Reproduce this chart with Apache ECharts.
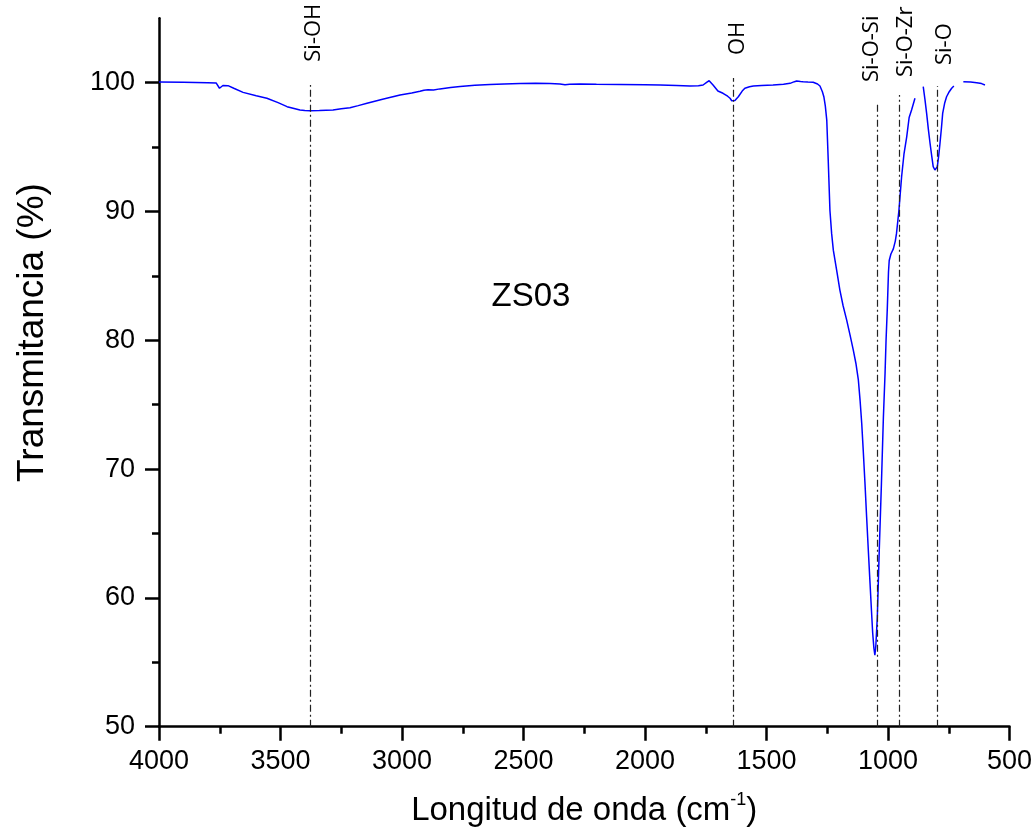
<!DOCTYPE html>
<html>
<head>
<meta charset="utf-8">
<script src="https://cdn.jsdelivr.net/npm/echarts@6/dist/echarts.min.js"></script>
<style>html,body{margin:0;padding:0;background:#fff}#c{width:1036px;height:837px}</style>
</head>
<body>
<div id="c"></div>
<script>
// FTIR spectrum (wavenumber in cm-1, transmittance in %); null = gap in trace
const wavenumber = [
  4000, 3900, 3800, 3765, 3757, 3751, 3745, 3737, 3716, 3690, 3654, 3600, 3556, 3510, 3473, 3440,
  3420, 3400, 3379, 3340, 3284, 3250, 3214, 3180, 3144, 3080, 3008, 2960, 2926, 2910, 2893, 2870,
  2844, 2800, 2761, 2700, 2638, 2580, 2514, 2450, 2391, 2350, 2329, 2310, 2268, 2200, 2103, 2000,
  1938, 1870, 1815, 1780, 1761, 1745, 1736, 1728, 1720, 1700, 1679, 1660, 1650, 1643, 1637, 1630,
  1616, 1600, 1589, 1570, 1554, 1520, 1473, 1430, 1403, 1385, 1376, 1360, 1349, 1330, 1308, 1290,
  1280, 1270, 1264, 1258, 1252, 1246, 1239, 1232, 1225, 1210, 1198, 1185, 1170, 1155, 1143, 1132,
  1122, 1115, 1108, 1102, 1095, 1088, 1081, 1074, 1068, 1063, 1058, 1054, 1050, 1044, 1036, 1027,
  1019, 1012, 1008, 1003, 998, 995, 988, 978, 970, 965, 955, 944, 934, 923, 913, 903,
  889, 872, 855, 848, 841, 834, 827, 820, 814, 807, 803, 797, 791, 786, 780, 775,
  767, 759, 748, 738, 729, 710, 690, 660, 635, 615, 601
];
const transmittance = [
  100.05, 100.03, 100.0, 99.98, 99.95, 99.57, 99.70, 99.78, 99.77, 99.55, 99.25, 98.98, 98.79, 98.45, 98.14, 97.98,
  97.88, 97.84, 97.83, 97.85, 97.88, 97.97, 98.06, 98.22, 98.40, 98.72, 99.05, 99.20, 99.33, 99.42, 99.45, 99.44,
  99.52, 99.62, 99.70, 99.80, 99.86, 99.90, 99.94, 99.95, 99.94, 99.90, 99.84, 99.88, 99.90, 99.88, 99.86, 99.84,
  99.82, 99.78, 99.74, 99.76, 99.82, 100.05, 100.15, 100.0, 99.82, 99.36, 99.18, 98.95, 98.79, 98.60, 98.45, 98.62,
  98.91, 99.35, 99.57, 99.68, 99.74, 99.78, 99.82, 99.88, 99.95, 100.08, 100.13, 100.10, 100.08, 100.05, 100.03, 99.90,
  99.74, 99.30, 98.91, 98.20, 97.10, 94.00, 90.10, 88.30, 87.00, 85.30, 83.90, 82.70, 81.57, 80.30, 79.25, 78.20,
  76.92, 75.36, 73.50, 71.48, 69.00, 66.30, 63.70, 61.16, 59.00, 57.27, 56.10, 55.56, 56.30, 58.50, 63.70, 68.90,
  74.00, 77.50, 80.00, 82.40, 85.30, 86.20, 86.70, 87.10, 87.70, 88.30, 90.10, 92.70, 94.50, 95.80, 97.30, 97.88,
  98.79, null, 99.69, 98.70, 97.62, 96.40, 95.30, 94.30, 93.48, 93.22, 93.30, 93.48, 94.40, 95.30, 96.50, 97.62,
  98.40, 98.91, 99.30, 99.57, 99.74, null, 100.08, 100.05, 100.00, 99.93, 99.82
];

// band assignments: guide-line position, guide-line top, label anchor
const bandNames = ['Si-OH', 'OH', 'Si-O-Si', 'Si-O-Zr', 'Si-O'];
const bandPosition = [3376, 1637, 1045, 955, 796];
const bandLineTop = [99.82, 100.36, 98.52, 99.05, 99.74];
const bandLabelX = [3365, 1620, 1068, 928, 768];
const bandLabelY = [101.63, 102.15, 100.05, 100.44, 101.37];

const sampleName = ['ZS03'];
const sampleAnchor = [[2469, 83.36]];

const yMajorTicks = [50, 60, 70, 80, 90, 100];
const yMinorTicks = [55, 65, 75, 85, 95];
const yMin = 50, yMax = 105;

const spectrum = wavenumber.map((w, i) => [w, transmittance[i]]);
const guideLines = bandPosition.map((p, i) => [{ coord: [p, yMin] }, { coord: [p, bandLineTop[i]] }]);
const bandLabels = bandNames.map((n, i) => ({ name: n, value: [bandLabelX[i], bandLabelY[i]] }));

const AX = '#000';
const FONT = "'Liberation Sans', Arial, sans-serif";
const plain = v => String(v);

const chart = echarts.init(document.getElementById('c'), null, { renderer: 'canvas' });
chart.setOption({
  animation: false,
  backgroundColor: '#fff',
  grid: { left: 159, right: 26.5, top: 18.3, bottom: 110.3, containLabel: false, outerBoundsMode: 'none' },
  xAxis: {
    type: 'value', min: 500, max: 4000, interval: 500, inverse: true,
    name: 'Longitud de onda (cm{sup|-1})', nameLocation: 'middle', nameGap: 64,
    nameTextStyle: {
      fontFamily: FONT, fontSize: 33, color: '#000',
      rich: { sup: { fontFamily: FONT, fontSize: 18, color: '#000', padding: [0, 0, 22, 0] } }
    },
    axisLine: { show: true, onZero: false, lineStyle: { color: AX, width: 2.5 } },
    axisTick: { show: true, inside: false, length: 14, lineStyle: { color: AX, width: 2.5 } },
    minorTick: { show: true, splitNumber: 2, length: 7, lineStyle: { color: AX, width: 2.5 } },
    axisLabel: { fontFamily: FONT, fontSize: 27, color: '#000', margin: 21, formatter: plain },
    splitLine: { show: false }, minorSplitLine: { show: false }
  },
  yAxis: [{
    type: 'value', min: yMin, max: yMax, interval: 10,
    name: 'Transmitancia (%)', nameLocation: 'middle', nameGap: 108, nameRotate: 90,
    nameTextStyle: { fontFamily: FONT, fontSize: 37, color: '#000', padding: [0, 0, 0, 80] },
    axisLine: { show: true, onZero: false, lineStyle: { color: AX, width: 2.5 } },
    axisTick: { show: true, inside: false, length: 14, lineStyle: { color: AX, width: 2.5 }, customValues: yMajorTicks },
    axisLabel: { fontFamily: FONT, fontSize: 27, color: '#000', margin: 24, customValues: yMajorTicks, formatter: plain },
    splitLine: { show: false }
  }, {
    type: 'value', min: yMin, max: yMax, position: 'left',
    axisLine: { show: false },
    axisTick: { show: true, inside: false, length: 7, lineStyle: { color: AX, width: 2.5 }, customValues: yMinorTicks },
    axisLabel: { show: false, customValues: yMinorTicks },
    splitLine: { show: false }
  }],
  series: [{
    type: 'line', data: spectrum, showSymbol: false, symbol: 'none', connectNulls: false,
    lineStyle: { color: '#0000ff', width: 1.5 }, z: 3,
    markLine: {
      silent: true, symbol: ['none', 'none'], label: { show: false },
      lineStyle: { color: '#222', width: 1.2, type: [7, 3, 2, 3] },
      data: guideLines
    }
  }, {
    type: 'scatter', data: bandLabels, symbolSize: 0, silent: true,
    itemStyle: { opacity: 1 },
    label: {
      show: true, formatter: '{b}', position: 'inside', rotate: 90, align: 'left', verticalAlign: 'middle',
      fontFamily: "'Open Sans', sans-serif", fontSize: 22, color: '#000', opacity: 1
    }
  }, {
    type: 'scatter', data: sampleAnchor.map((v, i) => ({ name: sampleName[i], value: v })), symbolSize: 0, silent: true,
    itemStyle: { opacity: 1 },
    label: { show: true, formatter: '{b}', position: 'inside', fontFamily: FONT, fontSize: 33, color: '#000', opacity: 1 }
  }]
});
</script>
</body>
</html>
